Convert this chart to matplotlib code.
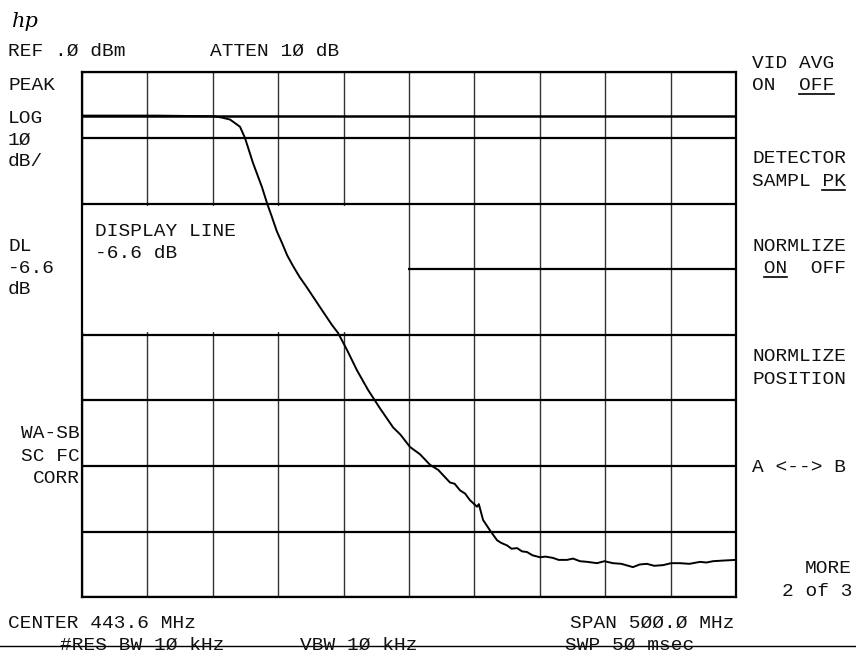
import numpy as np
import matplotlib
matplotlib.use("Agg")
import matplotlib.pyplot as plt
from matplotlib.patches import Rectangle
from matplotlib.lines import Line2D

center_mhz = 443.6
span_mhz = 500.0
ref_db = 0.0
db_per_div = 10
n_div_y = 8
display_line_db = -6.6

# trace (MHz, dB)
freq_mhz = [193.6, 250.0, 294.5, 300.6, 306.8, 314.4, 318.2, 324.3, 331.2, 335.0,
            338.9, 342.5, 346.5, 350.5, 354.9, 360.0, 365.6, 375.6, 384.7, 389.3,
            396.2, 403.8, 412.3, 421.4, 431.4, 437.0, 444.4, 452.0, 459.6, 466.0,
            474.9, 478.5, 482.6, 486.5, 490.2, 495.6, 497.0, 500.2, 505.5, 510.9,
            514.0, 518.6, 522.0, 526.2, 530.0, 533.8, 538.0, 543.8, 548.0, 553.7,
            558.0, 564.4, 569.0, 574.3, 580.0, 587.3, 593.0, 599.5, 606.0, 614.8,
            620.0, 625.5, 631.0, 637.8, 644.0, 650.8, 658.0, 666.1, 671.0, 676.0,
            684.0, 693.6]
level_db = [-6.6, -6.6, -6.7, -6.9, -7.2, -8.3, -10.0, -13.8, -17.5, -19.9,
            -22.1, -24.2, -26.0, -27.9, -29.5, -31.2, -32.8, -35.8, -38.5, -39.7,
            -42.3, -45.4, -48.4, -51.2, -54.1, -55.2, -57.1, -58.2, -59.8, -60.6,
            -62.5, -62.7, -63.7, -64.2, -65.2, -66.2, -65.8, -68.2, -69.8, -71.3,
            -71.7, -72.1, -72.6, -72.5, -73.0, -73.1, -73.6, -73.9, -73.8, -74.0,
            -74.3, -74.3, -74.1, -74.5, -74.6, -74.8, -74.5, -74.8, -74.9, -75.4,
            -75.0, -74.9, -75.2, -75.1, -74.8, -74.8, -74.9, -74.6, -74.7, -74.5,
            -74.4, -74.3]

W, H = 856, 660
fig = plt.figure(figsize=(W / 100, H / 100), dpi=100)

# graticule area in pixels
gx0, gx1, gy0, gy1 = 82, 736, 72.3, 597.3
ax = fig.add_axes([gx0 / W, 1 - gy1 / H, (gx1 - gx0) / W, (gy1 - gy0) / H])

f_lo = center_mhz - span_mhz / 2
f_hi = center_mhz + span_mhz / 2
db_lo = ref_db - n_div_y * db_per_div
ax.set_xlim(f_lo, f_hi)
ax.set_ylim(db_lo, ref_db)
ax.set_xticks(np.linspace(f_lo, f_hi, 11))
ax.set_yticks(np.arange(db_lo, ref_db + 1, db_per_div))
ax.tick_params(length=0, labelbottom=False, labelleft=False)
ax.set_axisbelow(True)
ax.grid(axis="y", color="black", lw=1.6)
ax.grid(axis="x", color="#333333", lw=1.0)
for s in ax.spines.values():
    s.set_linewidth(1.6)

# blanked box behind the "DISPLAY LINE" message
ax.add_patch(Rectangle((f_lo, -39.6), (center_mhz - f_lo) - 0.8, 19.2,
                       facecolor="white", edgecolor="none", zorder=1))

ax.axhline(display_line_db, color="black", lw=1.8, zorder=2)
ax.plot(freq_mhz, level_db, color="black", lw=1.4, zorder=3)

FS = 14
ADV = 0.6 * FS * 100 / 72  # monospace advance in px


def txt(x, y, s, ha="left", **kw):
    fig.text(x / W, 1 - (y + 6) / H, s, ha=ha, va="baseline",
             family="Liberation Mono", fontsize=FS, color="#111111", **kw)


def uline(x, y, nchar):
    fig.add_artist(Line2D([x / W, (x + nchar * ADV) / W],
                          [1 - (y + 10) / H] * 2, color="black", lw=1.2))


fig.text(12 / W, 1 - 27 / H, "hp", fontsize=15, style="italic",
         family="DejaVu Serif", va="baseline")

txt(8, 50, "REF .Ø dBm")
txt(210, 50, "ATTEN 1Ø dB")

left_labels = [(84, "PEAK"), (117, "LOG"), (139, "1Ø"), (160, "dB/"),
               (245, "DL"), (267, "-6.6"), (288, "dB")]
for y, s in left_labels:
    txt(8, y, s)
for y, s in [(432, "WA-SB"), (455, "SC FC"), (477, "CORR")]:
    txt(80, y, s, ha="right")

txt(95, 230, "DISPLAY LINE")
txt(95, 252, "-6.6 dB")

rx = 752
txt(rx, 62, "VID AVG")
txt(rx, 84, "ON  OFF")
uline(rx + 4 * ADV, 84, 3)
txt(rx, 157, "DETECTOR")
txt(rx, 180, "SAMPL PK")
uline(rx + 6 * ADV, 180, 2)
txt(rx, 245, "NORMLIZE")
txt(rx, 267, " ON  OFF")
uline(rx + 1 * ADV, 267, 2)
txt(rx, 355, "NORMLIZE")
txt(rx, 378, "POSITION")
txt(rx, 466, "A <--> B")
txt(852, 567, "MORE", ha="right")
txt(852, 590, "2 of 3", ha="right")

txt(8, 622, "CENTER 443.6 MHz")
txt(735, 622, "SPAN 5ØØ.Ø MHz", ha="right")
txt(60, 644, "#RES BW 1Ø kHz")
txt(300, 644, "VBW 1Ø kHz")
txt(565, 644, "SWP 5Ø msec")
fig.add_artist(Line2D([0, 1], [1 - 646 / H] * 2, color="black", lw=1.0))

fig.savefig("out.png", dpi=100)
